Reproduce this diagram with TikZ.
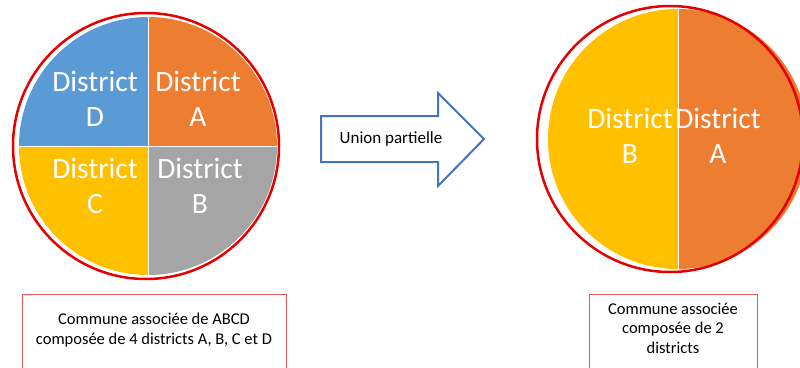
\documentclass[tikz,border=0pt]{standalone}
\usepackage{fontspec}
\setmainfont{Carlito}
\usepackage{tikz}
\usetikzlibrary{positioning}
\definecolor{dblue}{RGB}{91,155,213}
\definecolor{dorange}{RGB}{237,125,49}
\definecolor{dgray}{RGB}{165,165,165}
\definecolor{dyellow}{RGB}{255,192,0}
\definecolor{dred}{RGB}{230,0,0}
\definecolor{dboxred}{RGB}{232,90,90}
\definecolor{darrow}{RGB}{68,114,196}

\begin{document}
\begin{tikzpicture}[x=1pt,y=-1pt,
  dlabel/.style={text=white,align=center,font=\fontsize{29.5}{35}\selectfont},
  ring/.style={draw=dred,line width=2.5pt},
  caption/.style={align=center,font=\fontsize{16.5}{19.5}\selectfont}]
\useasboundingbox (0,0) rectangle (800,367);
\clip (0,0) rectangle (800,367);
% commune ABCD
\fill[dorange] (148,146) -- (148,17) arc[start angle=-90,end angle=0,radius=129] -- cycle;
\fill[dblue] (148,146) -- (148,17) arc[start angle=-90,end angle=-180,radius=129] -- cycle;
\fill[dyellow] (148,146) -- (19,146) arc[start angle=180,end angle=90,radius=129] -- cycle;
\fill[dgray] (148,146) -- (277,146) arc[start angle=0,end angle=90,radius=129] -- cycle;
\draw[white,line width=1pt] (148,17) -- (148,275) (19,146) -- (277,146);
\draw[ring] (146,146) circle (133);
\node[dlabel] (dD) at (95,99) {District\\D};
\node[dlabel] (dA) at (198,99) {District\\A};
\node[dlabel] (dC) at (95,186) {District\\C};
\node[dlabel] (dB) at (200,186) {District\\B};
% union
\draw[darrow,line width=2pt,line join=miter] (321,116) -- (438,116) -- (438,93) -- (484,139)
  -- (438,186) -- (438,162) -- (321,162) -- cycle;
\node[font=\fontsize{17}{20}\selectfont] (union) at (391,139) {Union partielle};
% commune AB
\fill[dyellow] (678,139) -- (678,9) arc[start angle=-90,end angle=-270,radius=130] -- cycle;
\fill[dorange] (678,139) -- (678,9) arc[start angle=-90,end angle=90,radius=130] -- cycle;
\draw[white,line width=1pt] (678,9) -- (678,269);
\draw[ring] (670,139) circle (133);
\node[dlabel] (rB) at (630,136) {District\\B};
\node[dlabel] (rA) at (718,136) {District\\A};
% legends
\draw[dboxred,line width=1pt] (22,294) rectangle (286,390);
\node[caption] (capL) at (154,330) {Commune associée de ABCD\\composée de 4 districts A, B, C et D};
\draw[dboxred,line width=1pt] (589,294) rectangle (757,390);
\node[caption] (capR) at (673,328) {Commune associée\\composée de 2\\districts};
\end{tikzpicture}
\end{document}
